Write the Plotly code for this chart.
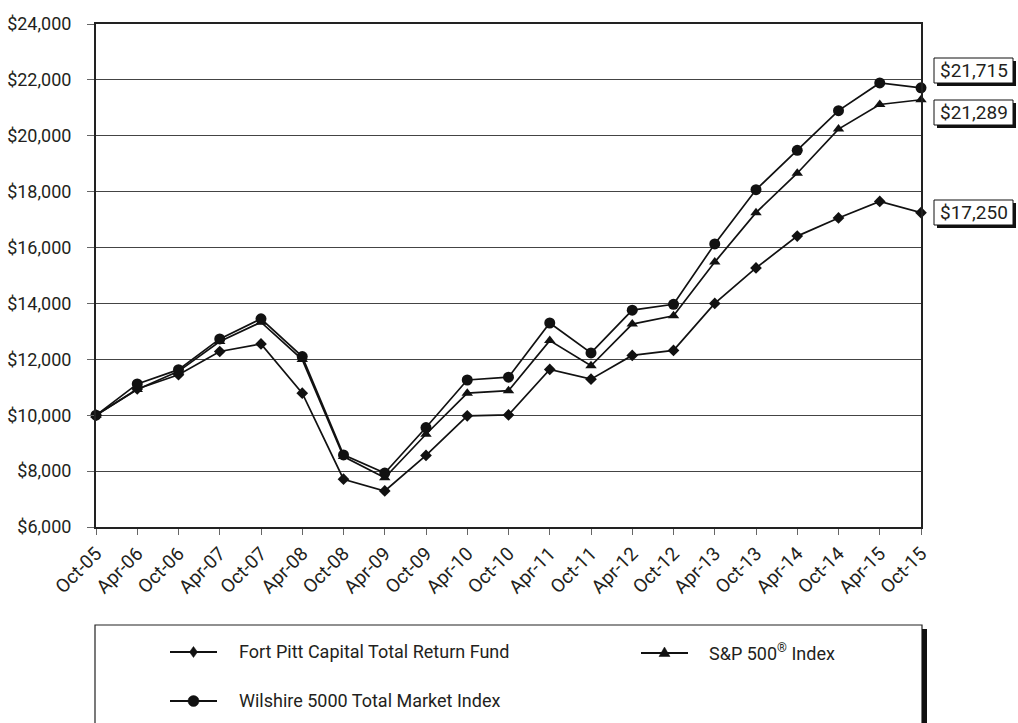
import plotly.graph_objects as go

# ---------------- data ----------------
dates = ["Oct-05", "Apr-06", "Oct-06", "Apr-07", "Oct-07", "Apr-08", "Oct-08",
         "Apr-09", "Oct-09", "Apr-10", "Oct-10", "Apr-11", "Oct-11", "Apr-12",
         "Oct-12", "Apr-13", "Oct-13", "Apr-14", "Oct-14", "Apr-15", "Oct-15"]
fort_pitt = [10000, 10940, 11450, 12280, 12550, 10790, 7710, 7290, 8560, 9980,
             10010, 11640, 11290, 12140, 12320, 14000, 15270, 16410, 17060, 17650, 17250]
sp500 = [10000, 10920, 11570, 12640, 13330, 11990, 8520, 7760, 9320, 10790,
         10880, 12670, 11770, 13260, 13560, 15480, 17250, 18660, 20240, 21120, 21289]
wilshire = [10000, 11120, 11630, 12730, 13450, 12100, 8580, 7930, 9560, 11260,
            11360, 13300, 12230, 13760, 13970, 16130, 18070, 19480, 20900, 21890, 21715]
series_names = ["Fort Pitt Capital Total Return Fund", "S&P 500<sup>®</sup> Index",
                "Wilshire 5000 Total Market Index"]
y_ticks = list(range(6000, 24001, 2000))
y_tick_labels = [f"${v:,}" for v in y_ticks]

# ---------------- layout geometry (pixels) ----------------
W, H = 1018, 723
L, R, T, B = 96, 921, 24, 527
FONT = "Roboto, Liberation Sans, sans-serif"
FS = 18
TXT = "#231f20"


def px(x, y):
    return (x - L) / (R - L), (B - y) / (B - T)


fig = go.Figure()
styles = [
    dict(symbol="diamond", size=9),
    dict(symbol="triangle-up", size=10),
    dict(symbol="circle", size=11),
]
for name, vals, st in zip(series_names, [fort_pitt, sp500, wilshire], styles):
    fig.add_trace(go.Scatter(
        x=dates, y=vals, name=name, mode="lines+markers",
        line=dict(color="#111111", width=1.7),
        marker=dict(color="#111111", symbol=st["symbol"], size=st["size"]),
        cliponaxis=False, showlegend=False,
    ))

shapes = []
annotations = []

# right-hand value boxes
box_centers = [(973.5, 70.5), (973.5, 112.5), (973.5, 212.5)]
for (cx, cy), vals in zip(box_centers, [wilshire, sp500, fort_pitt]):
    x0, x1 = cx - 39.5, cx + 39.5
    y0, y1 = cy - 12.5, cy + 12.5
    a0, b0 = px(x0 + 3, y1 + 3)
    a1, b1 = px(x1 + 3, y0 + 3)
    shapes.append(dict(type="rect", xref="paper", yref="paper", x0=a0, y0=b0, x1=a1, y1=b1,
                       fillcolor="#111111", line=dict(width=0), layer="above"))
    a0, b0 = px(x0, y1)
    a1, b1 = px(x1, y0)
    shapes.append(dict(type="rect", xref="paper", yref="paper", x0=a0, y0=b0, x1=a1, y1=b1,
                       fillcolor="white", line=dict(color="#111111", width=1), layer="above"))
    tx, ty = px(cx, cy)
    annotations.append(dict(xref="paper", yref="paper", x=tx, y=ty, text=f"${vals[-1]:,}",
                            showarrow=False, xanchor="center", yanchor="middle",
                            font=dict(family=FONT, size=19, color=TXT)))

# legend box
a0, b0 = px(95, 760)
a1, b1 = px(922, 625)
shapes.append(dict(type="rect", xref="paper", yref="paper", x0=a0, y0=b0, x1=a1, y1=b1,
                   fillcolor="rgba(0,0,0,0)", line=dict(color="#222222", width=1.2), layer="above"))
a0, b0 = px(922, 760)
a1, b1 = px(927, 629)
shapes.append(dict(type="rect", xref="paper", yref="paper", x0=a0, y0=b0, x1=a1, y1=b1,
                   fillcolor="#111111", line=dict(width=0), layer="above"))

# legend entries: (sample x0, x1, y, marker, text x)
legend_items = [
    (170, 217, 652, "diamond", 237, series_names[0]),
    (641, 688, 653, "triangle", 707, series_names[1]),
    (170, 217, 701, "circle", 237, series_names[2]),
]
for sx0, sx1, sy, mk, tx, label in legend_items:
    a0, b = px(sx0, sy)
    a1, _ = px(sx1, sy)
    shapes.append(dict(type="line", xref="paper", yref="paper", x0=a0, y0=b, x1=a1, y1=b,
                       line=dict(color="#111111", width=2), layer="above"))
    cx = (sx0 + sx1) / 2
    if mk == "diamond":
        pts = [(cx, sy - 5.5), (cx + 4, sy), (cx, sy + 5.5), (cx - 4, sy)]
    elif mk == "triangle":
        pts = [(cx, sy - 6), (cx + 5.5, sy + 3.5), (cx - 5.5, sy + 3.5)]
    else:
        pts = None
    if pts:
        path = "M" + " L".join(f"{px(x, y)[0]:.5f},{px(x, y)[1]:.5f}" for x, y in pts) + " Z"
        shapes.append(dict(type="path", xref="paper", yref="paper", path=path,
                           fillcolor="#111111", line=dict(color="#111111", width=0.5), layer="above"))
    else:
        c0 = px(cx - 5.5, sy + 5.5)
        c1 = px(cx + 5.5, sy - 5.5)
        shapes.append(dict(type="circle", xref="paper", yref="paper", x0=c0[0], y0=c0[1],
                           x1=c1[0], y1=c1[1], fillcolor="#111111",
                           line=dict(color="#111111", width=0.5), layer="above"))
    ax, ay = px(tx, sy - 1)
    annotations.append(dict(xref="paper", yref="paper", x=ax, y=ay, text=label, showarrow=False,
                            xanchor="left", yanchor="middle",
                            font=dict(family=FONT, size=FS, color=TXT)))

fig.update_layout(
    width=W, height=H,
    margin=dict(l=L, r=W - R, t=T, b=H - B, autoexpand=False),
    paper_bgcolor="white", plot_bgcolor="white",
    font=dict(family=FONT, size=FS, color=TXT),
    shapes=shapes, annotations=annotations,
    showlegend=False,
)
fig.update_xaxes(
    type="category", range=[0, len(dates) - 1], tickangle=-45, automargin=False,
    showline=True, linecolor="#222222", linewidth=2, mirror=True,
    ticks="outside", ticklen=6, tickcolor="#666666", tickwidth=1,
    showgrid=False, zeroline=False,
    tickfont=dict(family=FONT, size=19, color=TXT),
)
fig.update_yaxes(
    range=[6000, 24000], tickvals=y_ticks, ticktext=y_tick_labels, automargin=False,
    showline=True, linecolor="#222222", linewidth=2, mirror=True,
    ticks="outside", ticklen=7, tickcolor="#666666", tickwidth=1,
    showgrid=True, gridcolor="#444444", gridwidth=1, zeroline=False,
    ticklabelstandoff=12,
    tickfont=dict(family=FONT, size=FS, color=TXT),
)

fig.write_html("out.html")
